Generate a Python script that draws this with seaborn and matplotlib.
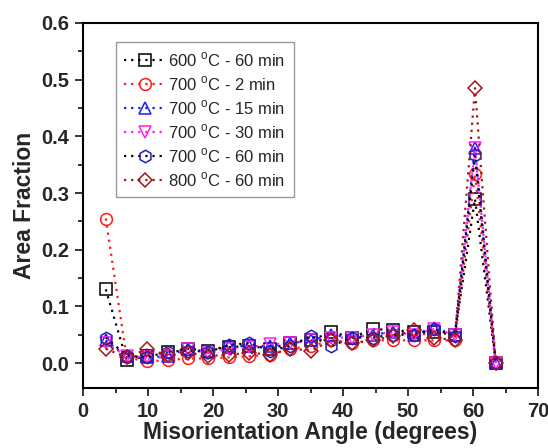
import matplotlib
matplotlib.use("Agg")
import matplotlib.pyplot as plt
from matplotlib.ticker import MultipleLocator, FormatStrFormatter
import seaborn as sns
import pandas as pd

# Bin centres of the misorientation angle histogram (degrees)
angle = [3.5, 6.7, 9.8, 13.0, 16.1, 19.3, 22.5, 25.6, 28.8, 31.9,
         35.1, 38.2, 41.4, 44.6, 47.7, 50.9, 54.0, 57.2, 60.3, 63.5]

af_600_60 = [0.130, 0.005, 0.012, 0.020, 0.025, 0.022, 0.028, 0.030, 0.025, 0.035,
             0.040, 0.055, 0.045, 0.060, 0.058, 0.055, 0.055, 0.050, 0.290, 0.000]
af_700_2 = [0.255, 0.010, 0.003, 0.005, 0.008, 0.008, 0.010, 0.012, 0.015, 0.025,
            0.030, 0.040, 0.035, 0.040, 0.040, 0.040, 0.040, 0.040, 0.333, 0.000]
af_700_15 = [0.040, 0.012, 0.010, 0.012, 0.025, 0.020, 0.030, 0.030, 0.030, 0.035,
             0.040, 0.050, 0.045, 0.050, 0.055, 0.050, 0.062, 0.050, 0.380, 0.000]
af_700_30 = [0.035, 0.012, 0.010, 0.010, 0.025, 0.018, 0.025, 0.028, 0.033, 0.035,
             0.040, 0.045, 0.045, 0.050, 0.055, 0.050, 0.060, 0.050, 0.380, 0.000]
af_700_60 = [0.045, 0.013, 0.010, 0.020, 0.022, 0.020, 0.032, 0.035, 0.022, 0.030,
             0.048, 0.030, 0.045, 0.045, 0.050, 0.050, 0.060, 0.048, 0.367, 0.000]
af_800_60 = [0.025, 0.010, 0.024, 0.015, 0.018, 0.012, 0.015, 0.018, 0.015, 0.025,
             0.022, 0.040, 0.035, 0.040, 0.048, 0.058, 0.045, 0.040, 0.485, 0.000]

labels = ["600 $^\\mathrm{o}$C - 60 min", "700 $^\\mathrm{o}$C - 2 min",
          "700 $^\\mathrm{o}$C - 15 min", "700 $^\\mathrm{o}$C - 30 min",
          "700 $^\\mathrm{o}$C - 60 min", "800 $^\\mathrm{o}$C - 60 min"]
series = [af_600_60, af_700_2, af_700_15, af_700_30, af_700_60, af_800_60]

# marker, marker edge colour, line colour
styles = [("s", "black", "black"),
          ("o", "#ff1a1a", "#ff1a1a"),
          ("^", "#1a1aff", "#1a1aff"),
          ("v", "#ff1aff", "#ff1aff"),
          ("h", "#1f1fb4", "black"),
          ("D", "#a3161a", "#a3161a")]

sns.set_theme(style="ticks")
plt.rcParams["font.family"] = ["Liberation Sans", "DejaVu Sans"]
plt.rcParams["mathtext.fontset"] = "custom"
plt.rcParams["mathtext.rm"] = "Liberation Sans"

fig = plt.figure(figsize=(5.48, 4.48), dpi=100)
ax = fig.add_axes([0.1515, 0.134, 0.8303, 0.8147])

for lab, vals, (mk, mec, lc) in zip(labels, series, styles):
    df = pd.DataFrame({"angle": angle, "fraction": vals})
    sns.lineplot(data=df, x="angle", y="fraction", ax=ax, label=lab,
                 color=lc, linestyle=(0, (1, 2.2)), linewidth=1.6,
                 marker=mk, markersize=9 if mk == "h" else (8.5 if mk != "D" else 7.5),
                 markerfacecolor="none", markeredgecolor=mec,
                 markeredgewidth=1.1)

ax.set_xlim(0, 70)
ax.set_ylim(-0.044, 0.6)
ax.xaxis.set_major_locator(MultipleLocator(10))
ax.xaxis.set_minor_locator(MultipleLocator(5))
ax.yaxis.set_major_locator(MultipleLocator(0.1))
ax.yaxis.set_minor_locator(MultipleLocator(0.05))
ax.yaxis.set_major_formatter(FormatStrFormatter("%.1f"))

ax.tick_params(axis="both", which="major", direction="out", length=6, width=1.3,
               labelsize=14.5, top=False, right=False, pad=4)
ax.tick_params(axis="both", which="minor", direction="out", length=3.5, width=1.3,
               top=False, right=False)
for lbl in ax.get_xticklabels() + ax.get_yticklabels():
    lbl.set_fontweight("bold")

for sp in ax.spines.values():
    sp.set_linewidth(1.5)
    sp.set_color("black")

ax.set_xlabel("Misorientation Angle (degrees)", fontsize=16.5, fontweight="bold",
              labelpad=0)
ax.set_ylabel("Area Fraction", fontsize=16.5, fontweight="bold", labelpad=4)

leg = ax.legend(loc="upper left", bbox_to_anchor=(0.072, 0.948), fontsize=12,
                frameon=True, fancybox=False, edgecolor="#808080",
                handlelength=2.45, handletextpad=0.2, labelspacing=0.32,
                borderpad=0.5, borderaxespad=0)
leg.get_frame().set_linewidth(1.0)

fig.savefig("out.png", dpi=100, facecolor="white")
